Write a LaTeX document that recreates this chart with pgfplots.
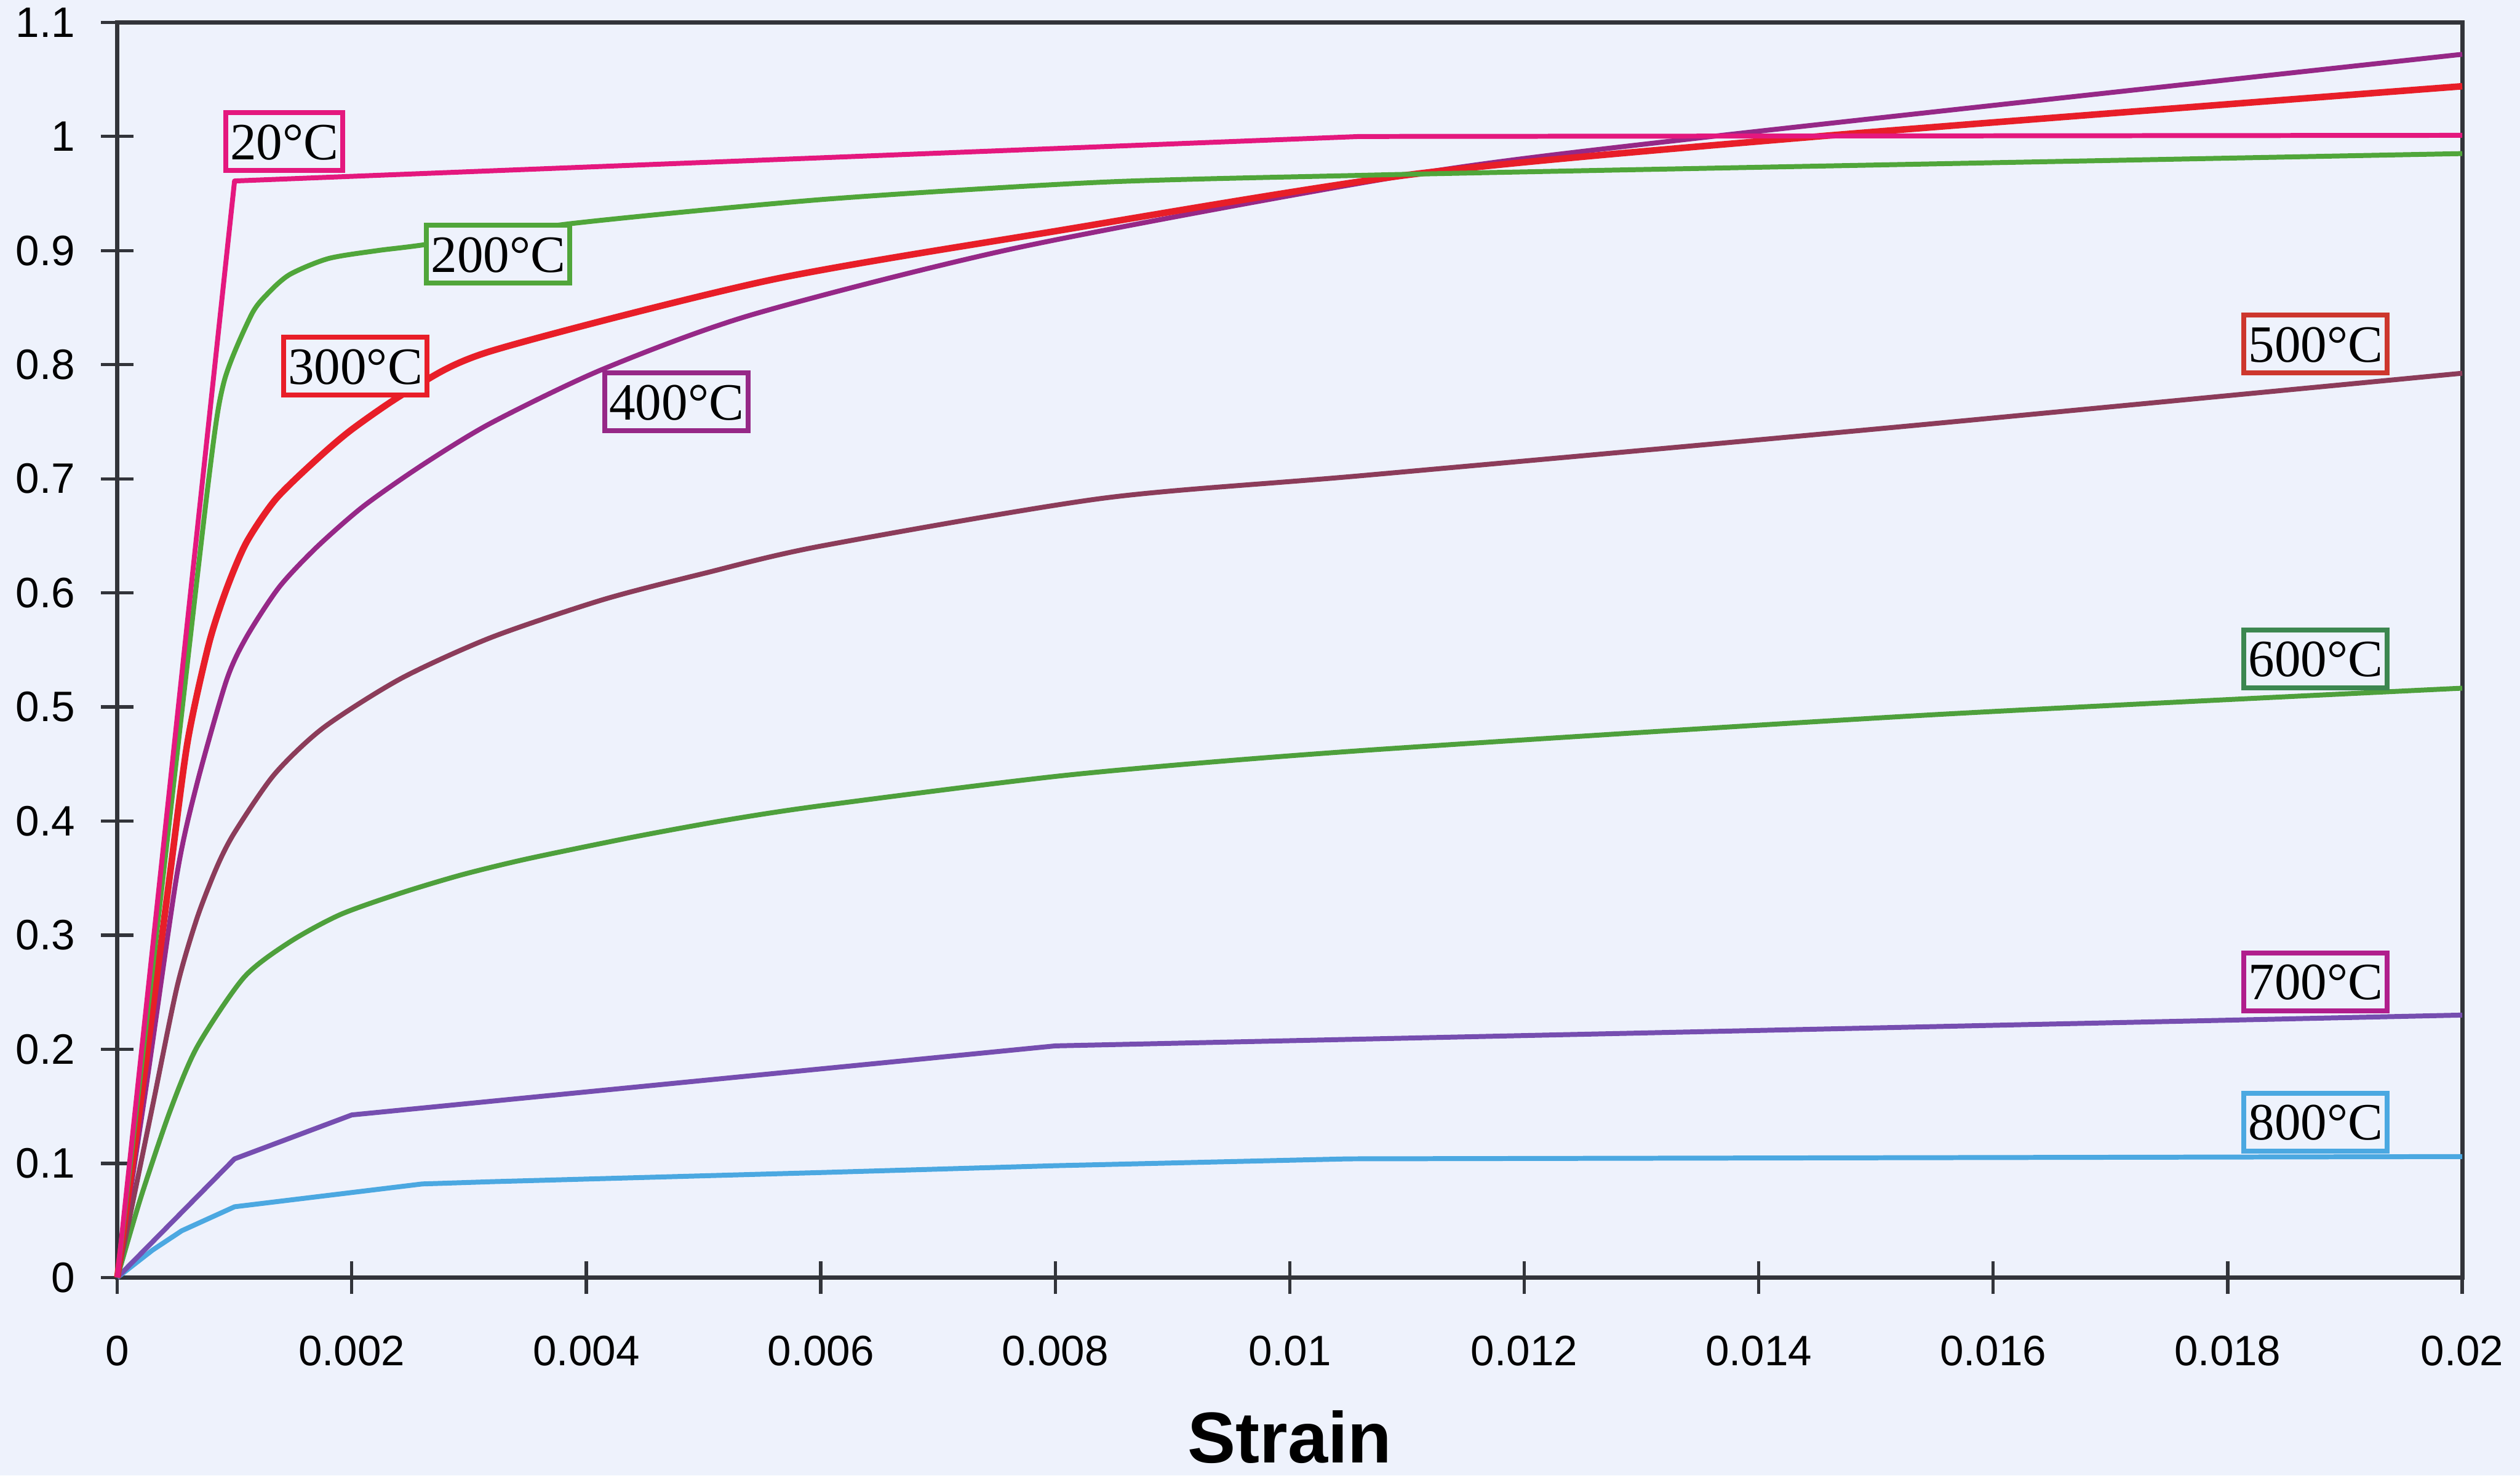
\documentclass[border=0pt]{standalone}
\usepackage{fontspec}
\setmainfont{Liberation Serif}
\newfontfamily\sansf{Liberation Sans}
\usepackage{pgfplots}
\pgfplotsset{compat=1.18}
\definecolor{bg}{RGB}{238,242,252}
\definecolor{c20}{RGB}{228,24,126}
\definecolor{c200}{RGB}{80,166,58}
\definecolor{c300}{RGB}{232,30,40}
\definecolor{c400}{RGB}{150,40,135}
\definecolor{c500}{RGB}{140,60,90}
\definecolor{b500}{RGB}{205,55,45}
\definecolor{c600}{RGB}{78,160,60}
\definecolor{b600}{RGB}{60,135,80}
\definecolor{c700}{RGB}{118,78,176}
\definecolor{b700}{RGB}{176,30,140}
\definecolor{c800}{RGB}{75,168,225}
\definecolor{axc}{RGB}{50,52,58}
\tikzset{lbl/.style={draw, fill=bg, line width=0.9pt, font=\fontsize{9.6}{11}\selectfont, inner xsep=0.8pt, inner ysep=2pt, text height=6.6pt, text depth=0pt}}
\begin{document}
\begin{tikzpicture}
\fill[bg] (-21.5pt,-36.3pt) rectangle (440.3pt,234.1pt);
\begin{axis}[
  at={(0,0)}, anchor=south west,
  scale only axis, width=429.7pt, height=230pt,
  xmin=0, xmax=0.02, ymin=0, ymax=1.1,
  scaled x ticks=false, scaled y ticks=false,
  axis line style={axc, line width=0.8pt},
  tick style={axc, line width=0.6pt},
  tick pos=left, tick align=center, major tick length=6pt,
  xtick={0,0.002,0.004,0.006,0.008,0.01,0.012,0.014,0.016,0.018,0.02},
  xticklabels={0,0.002,0.004,0.006,0.008,0.01,0.012,0.014,0.016,0.018,0.02},
  ytick={0,0.1,0.2,0.3,0.4,0.5,0.6,0.7,0.8,0.9,1,1.1},
  yticklabels={0,0.1,0.2,0.3,0.4,0.5,0.6,0.7,0.8,0.9,1,1.1},
  ticklabel style={font=\sansf\fontsize{7.8}{9}\selectfont, text=black},
  xticklabel style={yshift=-4.2pt},
  yticklabel style={xshift=-1.2pt},
  xlabel={Strain},
  xlabel style={font=\sansf\bfseries\fontsize{13.2}{15}\selectfont, at={(axis description cs:0.5,0)}, anchor=base, yshift=-34pt},
  every axis plot/.append style={line width=0.9pt, line join=round},
  sm/.style={smooth, tension=0.45},
  clip=false,
]
% 800
\addplot[c800] coordinates {(0,0) (0.0003,0.024) (0.00055,0.041) (0.001,0.062) (0.0026,0.082) (0.0032,0.084) (0.006,0.092) (0.008,0.098) (0.0105,0.104) (0.02,0.106)};
% 700
\addplot[c700] coordinates {(0,0) (0.001,0.104) (0.002,0.1425) (0.008,0.203) (0.01064,0.209) (0.02,0.230)};
% 600
\addplot[c600, sm] coordinates {(0,0) (0.0002,0.07) (0.00045,0.146) (0.00068,0.202) (0.00108,0.263) (0.00147,0.294) (0.0019,0.318) (0.00242,0.337) (0.00294,0.353) (0.0035,0.367) (0.0044,0.386) (0.0052,0.401) (0.00604,0.414) (0.00817,0.441) (0.01064,0.462) (0.01545,0.493) (0.02,0.5165)};
% 500
\addplot[c500, sm] coordinates {(0,0) (0.0003,0.15) (0.00051,0.255) (0.00068,0.315) (0.00085,0.36) (0.001,0.39) (0.00134,0.441) (0.00176,0.482) (0.00242,0.525) (0.00319,0.561) (0.00414,0.594) (0.005,0.617) (0.006,0.641) (0.00841,0.683) (0.01064,0.703) (0.01504,0.744) (0.02,0.7925)};
% 400
\addplot[c400, sm] coordinates {(0,0) (0.00025,0.17) (0.00051,0.354) (0.00068,0.433) (0.00093,0.523) (0.0011,0.561) (0.00138,0.605) (0.0017,0.640) (0.0021,0.676) (0.0026,0.712) (0.00319,0.749) (0.00414,0.796) (0.00542,0.844) (0.0077,0.903) (0.01106,0.967) (0.0136,1.0) (0.02,1.072)};
% 300
\addplot[c300, sm, line width=1.2pt] coordinates {(0,0) (0.00022,0.17) (0.00045,0.354) (0.0006,0.47) (0.00078,0.555) (0.00093,0.603) (0.0011,0.644) (0.00135,0.682) (0.0017,0.717) (0.00201,0.744) (0.0025,0.778) (0.00319,0.812) (0.00556,0.874) (0.008,0.917) (0.01106,0.967) (0.0145,1.0) (0.02,1.044)};
% 200
\addplot[c200, sm] coordinates {(0,0) (0.0004,0.36) (0.00078,0.70) (0.00091,0.785) (0.00114,0.843) (0.00128,0.862) (0.00147,0.879) (0.0018,0.893) (0.00222,0.900) (0.00261,0.905) (0.0039,0.924) (0.00604,0.945) (0.00841,0.960) (0.01064,0.966) (0.0125,0.970) (0.015,0.975) (0.0175,0.980) (0.02,0.985)};
% 20
\addplot[c20] coordinates {(0,0) (0.001,0.961) (0.0106,1.0) (0.02,1.001)};
% labels
\node[lbl, draw=c20] at (axis cs:0.001424,0.9957) {20°C};
\node[lbl, draw=c200] at (axis cs:0.003249,0.897) {200°C};
\node[lbl, draw=c300] at (axis cs:0.00203,0.7987) {300°C};
\node[lbl, draw=c400] at (axis cs:0.00477,0.7676) {400°C};
\node[lbl, draw=b500] at (axis cs:0.01875,0.818) {500°C};
\node[lbl, draw=b600] at (axis cs:0.01875,0.5423) {600°C};
\node[lbl, draw=b700] at (axis cs:0.01875,0.2592) {700°C};
\node[lbl, draw=c800] at (axis cs:0.01875,0.1363) {800°C};
\end{axis}
\pgfresetboundingbox
\path[use as bounding box] (-21.5pt,-36.3pt) rectangle (440.3pt,234.1pt);
\end{tikzpicture}
\end{document}
